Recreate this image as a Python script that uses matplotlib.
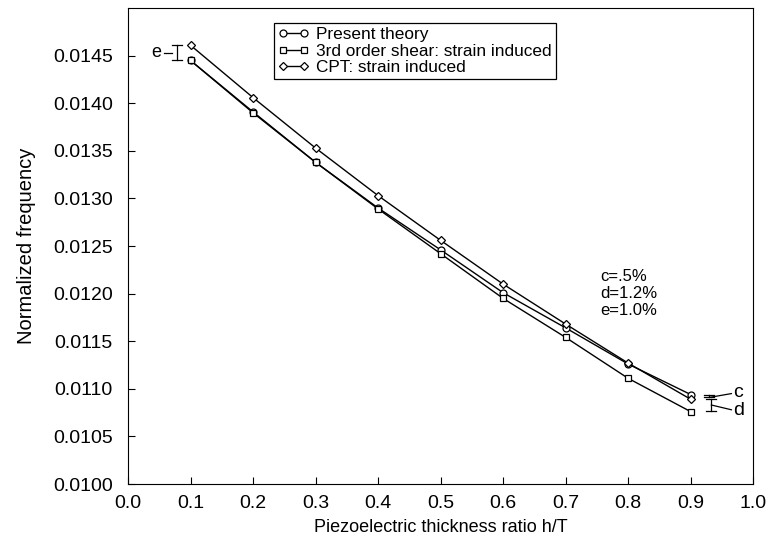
import matplotlib
matplotlib.use("Agg")
import matplotlib.pyplot as plt

plt.rcParams['font.family'] = ['Liberation Sans', 'DejaVu Sans']

ratio = [0.1, 0.2, 0.3, 0.4, 0.5, 0.6, 0.7, 0.8, 0.9]
present = [0.01445, 0.01391, 0.01338, 0.01290, 0.01246, 0.01201, 0.01164, 0.01126, 0.01094]
shear3 = [0.01445, 0.01390, 0.01338, 0.01289, 0.01242, 0.01195, 0.01154, 0.01111, 0.01076]
cpt = [0.01461, 0.01406, 0.01353, 0.01303, 0.01256, 0.01210, 0.01168, 0.01127, 0.01089]

xticks = [0.0, 0.1, 0.2, 0.3, 0.4, 0.5, 0.6, 0.7, 0.8, 0.9, 1.0]
yticks = [0.0100, 0.0105, 0.0110, 0.0115, 0.0120, 0.0125, 0.0130, 0.0135, 0.0140, 0.0145]

fig = plt.figure(figsize=(7.71, 5.42), dpi=100)
ax = fig.add_axes([0.166, 0.107, 0.811, 0.878])

style = dict(color='black', lw=1.0, mfc='white', mec='black', mew=0.9, ms=5)
ax.plot(ratio, present, marker='o', label='Present theory', **style)
ax.plot(ratio, shear3, marker='s', label='3rd order shear: strain induced', **style)
ax.plot(ratio, cpt, marker='D', label='CPT: strain induced', **dict(style, ms=4.2))

# difference markers (I-beams)
def ibeam(x, y0, y1):
    w = 0.008
    ax.plot([x, x], [y0, y1], color='black', lw=0.9)
    ax.plot([x - w, x + w], [y0, y0], color='black', lw=0.9)
    ax.plot([x - w, x + w], [y1, y1], color='black', lw=0.9)

ibeam(0.078, present[0], cpt[0])
ax.plot([0.058, 0.071], [0.01453, 0.01453], color='black', lw=0.9)
ax.text(0.053, 0.01453, 'e', ha='right', va='center', fontsize=13)

ibeam(0.93, cpt[-1] + 0.00002, present[-1])
ibeam(0.933, shear3[-1] + 0.00001, cpt[-1])
ax.plot([0.93, 0.965], [0.01091, 0.01095], color='black', lw=0.9)
ax.plot([0.933, 0.965], [0.01083, 0.01078], color='black', lw=0.9)
ax.text(0.968, 0.01096, 'c', ha='left', va='center', fontsize=14)
ax.text(0.968, 0.01077, 'd', ha='left', va='center', fontsize=14)

ax.text(0.755, 0.01200, 'c=.5%\nd=1.2%\ne=1.0%', ha='left', va='center',
        fontsize=12, linespacing=1.15)

ax.set_xlim(0.0, 1.0)
ax.set_ylim(0.0100, 0.0150)
ax.set_xticks(xticks)
ax.set_yticks(yticks)
ax.set_xticklabels(['{:.1f}'.format(v) for v in xticks])
ax.set_yticklabels(['{:.4f}'.format(v) for v in yticks])
ax.tick_params(direction='in', length=5, labelsize=14, top=False, right=False)
ax.tick_params(axis='y', pad=11)
ax.tick_params(axis='x', pad=8)
ax.set_xlabel('Piezoelectric thickness ratio h/T', fontsize=13, labelpad=5)
ax.set_ylabel('Normalized frequency', fontsize=14.5, labelpad=12)

leg = ax.legend(loc='upper center', bbox_to_anchor=(0.459, 0.969), fontsize=12.4,
                numpoints=2, handlelength=1.8, fancybox=False, framealpha=1,
                edgecolor='black', borderpad=0.25, labelspacing=0.08,
                handletextpad=0.4, borderaxespad=0)
leg.get_frame().set_linewidth(0.9)

fig.savefig('out.png', dpi=100)
